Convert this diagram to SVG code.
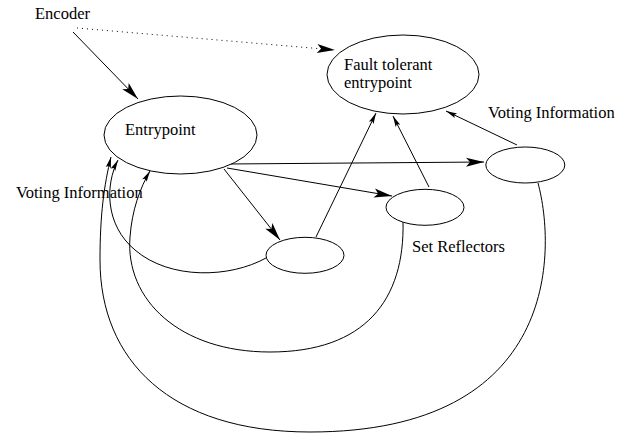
<svg xmlns="http://www.w3.org/2000/svg" width="629" height="434" viewBox="0 0 629 434">
<style>
  .node { fill: #fff; stroke: #000; stroke-width: 1; }
  .lbl { font-family: "Liberation Serif", "Times New Roman", serif; font-size: 16.5px; fill: #000; }
  .edge { fill: none; stroke: #000; stroke-width: 1; }
  .dot { stroke-dasharray: 1 4; }
</style>
<defs>
  <marker id="big" markerUnits="userSpaceOnUse" markerWidth="20" markerHeight="10" refX="18" refY="0" orient="auto" overflow="visible">
    <path d="M0,-4.5 L18,0 L0,4.5 L4,0 z" fill="#000"/>
  </marker>
  <marker id="small" markerUnits="userSpaceOnUse" markerWidth="12" markerHeight="6" refX="11" refY="0" orient="auto" overflow="visible">
    <path d="M0,-2.6 L11,0 L0,2.6 L2,0 z" fill="#000"/>
  </marker>
</defs>
<rect width="629" height="434" fill="#fff"/>
<g id="connectors">
  <path class="edge" d="M73,32 L138,99" marker-end="url(#big)"/>
  <path class="edge dot" d="M77,28 L335,50" marker-end="url(#big)"/>
  <path class="edge" d="M227,164 L484,162" marker-end="url(#big)"/>
  <path class="edge" d="M227,168 L392,196" marker-end="url(#big)"/>
  <path class="edge" d="M224,169 L280,240" marker-end="url(#big)"/>
  <path class="edge" d="M316,237 L376,113" marker-end="url(#small)"/>
  <path class="edge" d="M429,187 L393,116" marker-end="url(#small)"/>
  <path class="edge" d="M517,145 L446,111" marker-end="url(#small)"/>
  <path class="edge" d="M538,183 C556,250 560,432 310,432 C170,432 100,360 100,260 C100,215 104,185 111,157" marker-end="url(#small)"/>
  <path class="edge" d="M266,258 C230,278 170,280 135,250 C105,225 105,185 118,160" marker-end="url(#small)"/>
  <path class="edge" d="M403,221 C405,300 365,352 270,352 C180,352 125,300 130,237 C132,210 140,188 150,171" marker-end="url(#small)"/>
</g>
<g id="encoder">
  <text class="lbl" x="35" y="19">Encoder</text>
</g>
<g id="entrypoint">
  <ellipse class="node" cx="180.5" cy="135" rx="76.5" ry="39"/>
  <text class="lbl" x="125" y="135">Entrypoint</text>
</g>
<g id="fault-tolerant">
  <ellipse class="node" cx="403" cy="74.5" rx="76" ry="39.5"/>
  <text class="lbl" x="344" y="70">Fault tolerant</text>
  <text class="lbl" x="344" y="88">entrypoint</text>
</g>
<g id="right-node">
  <ellipse class="node" cx="525.3" cy="165" rx="39.5" ry="18"/>
</g>
<g id="set-reflectors">
  <ellipse class="node" cx="425" cy="207.3" rx="39" ry="18"/>
  <text class="lbl" x="412" y="252">Set Reflectors</text>
</g>
<g id="bottom-node">
  <ellipse class="node" cx="305" cy="255.3" rx="39" ry="18"/>
</g>
<g id="labels">
  <text class="lbl" x="16" y="198">Voting Information</text>
  <text class="lbl" x="488" y="118">Voting Information</text>
</g>
</svg>
